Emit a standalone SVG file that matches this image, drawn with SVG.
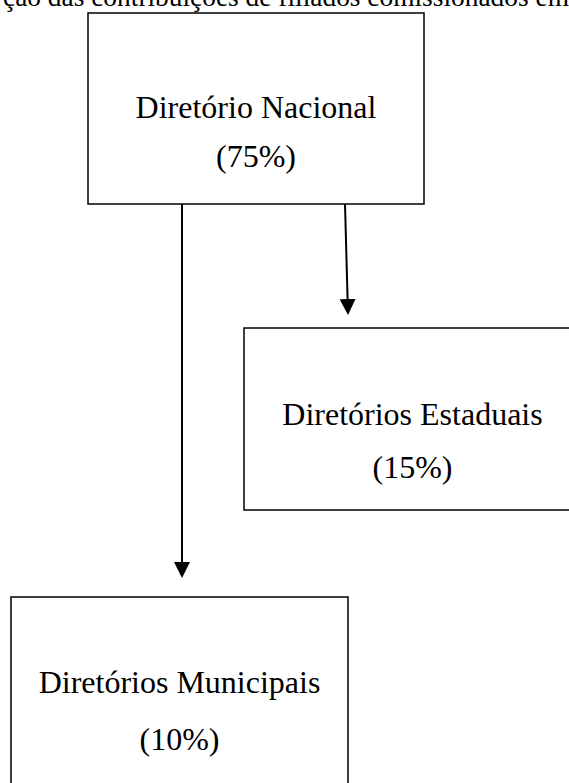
<svg xmlns="http://www.w3.org/2000/svg" width="569" height="783" viewBox="0 0 569 783">
<style>
.box{fill:#fff;stroke:#000;stroke-width:1.5}
.t{font-family:"Liberation Serif","Times New Roman",serif;font-size:32px;fill:#000;text-anchor:middle}
.cap{font-family:"Liberation Serif","Times New Roman",serif;font-size:27.4px;fill:#000}
.conn{stroke:#000;stroke-width:2;fill:none}
</style>
<defs>
<marker id="ah" markerUnits="userSpaceOnUse" markerWidth="16" markerHeight="16" refX="8" refY="8" orient="auto" viewBox="0 0 16 16">
<path d="M0,0 L16,8 L0,16 z" fill="#000"/>
</marker>
</defs>
<rect width="569" height="783" fill="#fff"/>
<text class="cap" x="3" y="6">ção das contribuições de filiados comissionados em</text>
<g id="connectors">
<line class="conn" x1="182" y1="204" x2="182" y2="570" marker-end="url(#ah)"/>
<line class="conn" x1="345" y1="204" x2="347.8" y2="307" marker-end="url(#ah)"/>
</g>
<g id="nacional">
<rect class="box" x="88" y="13" width="336" height="191"/>
<text class="t" x="256" y="118">Diretório Nacional</text>
<text class="t" x="256" y="167">(75%)</text>
</g>
<g id="estaduais">
<rect class="box" x="244" y="328" width="337" height="182"/>
<text class="t" x="412.5" y="425">Diretórios Estaduais</text>
<text class="t" x="412.5" y="478">(15%)</text>
</g>
<g id="municipais">
<rect class="box" x="11" y="597" width="337" height="200"/>
<text class="t" x="179.5" y="693">Diretórios Municipais</text>
<text class="t" x="179.5" y="750">(10%)</text>
</g>
</svg>
